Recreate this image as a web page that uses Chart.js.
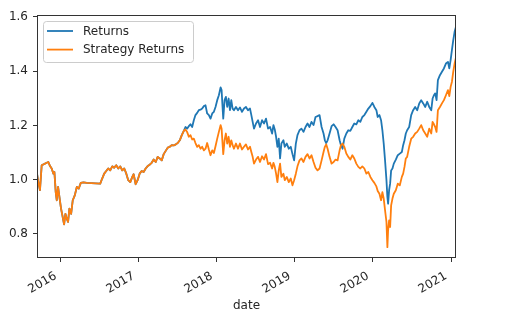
<!DOCTYPE html>
<html>
<head>
<meta charset="utf-8">
<title>Returns vs Strategy Returns</title>
<script src="https://cdn.jsdelivr.net/npm/chart.js@4"></script>
<style>
  html, body { margin: 0; padding: 0; background: #ffffff; }
  #wrap { width: 524px; height: 332px; }
</style>
</head>
<body>
<div id="wrap"><canvas id="returnsChart" width="524" height="332"></canvas></div>
<script>
// trading dates as decimal years
const dates = [
  2015.696, 2015.713, 2015.734, 2015.756, 2015.786, 2015.820, 2015.841, 2015.863, 2015.884, 2015.906,
  2015.919, 2015.936, 2015.949, 2015.966, 2015.983, 2016.004, 2016.021, 2016.043, 2016.060, 2016.077,
  2016.094, 2016.111, 2016.133, 2016.154, 2016.180, 2016.206, 2016.231, 2016.257, 2016.291, 2016.334,
  2016.506, 2016.531, 2016.557, 2016.583, 2016.608, 2016.634, 2016.660, 2016.685, 2016.711, 2016.737,
  2016.763, 2016.788, 2016.814, 2016.840, 2016.865, 2016.891, 2016.917, 2016.934, 2016.960, 2016.985,
  2017.011, 2017.037, 2017.062, 2017.088, 2017.114, 2017.140, 2017.165, 2017.191, 2017.217, 2017.242,
  2017.268, 2017.294, 2017.319, 2017.345, 2017.371, 2017.397, 2017.422, 2017.448, 2017.474, 2017.499,
  2017.525, 2017.551, 2017.577, 2017.598, 2017.619, 2017.641, 2017.662, 2017.684, 2017.705, 2017.726,
  2017.748, 2017.769, 2017.791, 2017.812, 2017.834, 2017.855, 2017.876, 2017.898, 2017.919, 2017.941,
  2017.962, 2017.983, 2018.005, 2018.026, 2018.048, 2018.061, 2018.073, 2018.082, 2018.099, 2018.116,
  2018.133, 2018.151, 2018.168, 2018.185, 2018.202, 2018.219, 2018.245, 2018.271, 2018.296, 2018.322,
  2018.348, 2018.373, 2018.399, 2018.425, 2018.442, 2018.459, 2018.476, 2018.502, 2018.528, 2018.553,
  2018.579, 2018.605, 2018.630, 2018.656, 2018.682, 2018.708, 2018.725, 2018.742, 2018.759, 2018.776,
  2018.793, 2018.810, 2018.827, 2018.853, 2018.870, 2018.896, 2018.922, 2018.947, 2018.969, 2018.990,
  2019.012, 2019.033, 2019.059, 2019.084, 2019.110, 2019.136, 2019.162, 2019.187, 2019.213, 2019.239,
  2019.264, 2019.290, 2019.316, 2019.342, 2019.367, 2019.384, 2019.401, 2019.419, 2019.444, 2019.470,
  2019.496, 2019.521, 2019.547, 2019.573, 2019.590, 2019.611, 2019.633, 2019.659, 2019.684, 2019.710,
  2019.736, 2019.761, 2019.787, 2019.813, 2019.838, 2019.864, 2019.890, 2019.916, 2019.941, 2019.967,
  2019.993, 2020.018, 2020.044, 2020.061, 2020.083, 2020.104, 2020.121, 2020.138, 2020.155, 2020.173,
  2020.185, 2020.194, 2020.207, 2020.220, 2020.233, 2020.250, 2020.267, 2020.293, 2020.318, 2020.344,
  2020.370, 2020.387, 2020.404, 2020.421, 2020.438, 2020.464, 2020.490, 2020.515, 2020.541, 2020.567,
  2020.593, 2020.618, 2020.644, 2020.670, 2020.695, 2020.721, 2020.747, 2020.764, 2020.781, 2020.798,
  2020.815, 2020.832, 2020.858, 2020.884, 2020.909, 2020.935, 2020.961, 2020.978, 2020.995, 2021.012,
  2021.029, 2021.046, 2021.064
];

// cumulative buy & hold returns
const returns = [
  1.022, 0.991, 0.961, 1.053, 1.057, 1.062, 1.065, 1.050, 1.041, 1.022,
  1.028, 0.954, 0.924, 0.973, 0.936, 0.893, 0.868, 0.835, 0.874, 0.856,
  0.844, 0.893, 0.874, 0.924, 0.942, 0.973, 0.967, 0.988, 0.990, 0.988,
  0.985, 1.004, 1.022, 1.032, 1.041, 1.034, 1.049, 1.044, 1.053, 1.041,
  1.049, 1.034, 1.041, 1.022, 0.998, 0.991, 1.010, 1.020, 0.983, 0.998,
  1.022, 1.032, 1.028, 1.041, 1.050, 1.055, 1.062, 1.074, 1.065, 1.084,
  1.078, 1.071, 1.094, 1.106, 1.118, 1.121, 1.127, 1.126, 1.130, 1.135,
  1.145, 1.164, 1.180, 1.194, 1.188, 1.197, 1.204, 1.194, 1.219, 1.238,
  1.246, 1.256, 1.258, 1.262, 1.271, 1.274, 1.244, 1.238, 1.225, 1.244,
  1.250, 1.268, 1.293, 1.311, 1.340, 1.330, 1.268, 1.225, 1.293, 1.305,
  1.268, 1.299, 1.256, 1.293, 1.262, 1.256, 1.268, 1.256, 1.266, 1.250,
  1.262, 1.268, 1.256, 1.262, 1.238, 1.213, 1.188, 1.207, 1.219, 1.194,
  1.219, 1.207, 1.225, 1.188, 1.194, 1.170, 1.201, 1.185, 1.158, 1.121,
  1.151, 1.078, 1.133, 1.145, 1.121, 1.133, 1.114, 1.121, 1.094, 1.071,
  1.133, 1.164, 1.182, 1.188, 1.176, 1.194, 1.207, 1.194, 1.213, 1.201,
  1.231, 1.234, 1.238, 1.194, 1.170, 1.145, 1.135, 1.145, 1.170, 1.197,
  1.204, 1.194, 1.182, 1.145, 1.127, 1.114, 1.151, 1.170, 1.182, 1.180,
  1.194, 1.207, 1.204, 1.219, 1.213, 1.231, 1.238, 1.250, 1.262, 1.271,
  1.283, 1.268, 1.256, 1.231, 1.238, 1.219, 1.182, 1.133, 1.071, 0.998,
  0.936, 0.911, 0.961, 0.985, 1.034, 1.041, 1.059, 1.074, 1.090, 1.096,
  1.102, 1.127, 1.145, 1.170, 1.182, 1.194, 1.238, 1.256, 1.268, 1.256,
  1.281, 1.293, 1.281, 1.268, 1.287, 1.268, 1.256, 1.299, 1.311, 1.318,
  1.293, 1.367, 1.385, 1.398, 1.410, 1.428, 1.434, 1.410, 1.441, 1.478,
  1.514, 1.545, 1.564
];

// cumulative returns of the signal strategy
const strategyReturns = [
  1.022, 0.991, 0.961, 1.053, 1.057, 1.062, 1.065, 1.050, 1.041, 1.022,
  1.028, 0.954, 0.924, 0.973, 0.936, 0.893, 0.868, 0.835, 0.874, 0.856,
  0.844, 0.893, 0.874, 0.924, 0.942, 0.973, 0.967, 0.988, 0.990, 0.988,
  0.985, 1.004, 1.022, 1.032, 1.041, 1.034, 1.049, 1.044, 1.053, 1.041,
  1.049, 1.034, 1.041, 1.022, 0.998, 0.991, 1.010, 1.020, 0.983, 0.998,
  1.022, 1.032, 1.028, 1.041, 1.050, 1.055, 1.062, 1.074, 1.065, 1.084,
  1.078, 1.071, 1.094, 1.106, 1.118, 1.121, 1.127, 1.126, 1.130, 1.135,
  1.145, 1.164, 1.180, 1.185, 1.176, 1.158, 1.164, 1.148, 1.151, 1.135,
  1.121, 1.127, 1.114, 1.121, 1.108, 1.114, 1.135, 1.111, 1.090, 1.108,
  1.098, 1.123, 1.151, 1.176, 1.201, 1.188, 1.133, 1.094, 1.145, 1.170,
  1.133, 1.158, 1.121, 1.145, 1.127, 1.114, 1.133, 1.114, 1.133, 1.111,
  1.121, 1.130, 1.111, 1.121, 1.102, 1.084, 1.059, 1.074, 1.084, 1.065,
  1.086, 1.074, 1.094, 1.057, 1.062, 1.041, 1.062, 1.047, 1.022, 0.991,
  1.034, 1.059, 1.010, 1.022, 0.998, 1.010, 0.991, 1.004, 0.979, 0.998,
  1.022, 1.049, 1.071, 1.078, 1.065, 1.084, 1.094, 1.078, 1.090, 1.065,
  1.044, 1.034, 1.041, 1.071, 1.102, 1.121, 1.130, 1.114, 1.084, 1.059,
  1.065, 1.074, 1.071, 1.108, 1.127, 1.133, 1.121, 1.096, 1.084, 1.074,
  1.090, 1.078, 1.059, 1.047, 1.041, 1.049, 1.041, 1.022, 1.028, 1.010,
  0.998, 0.988, 0.975, 0.958, 0.948, 0.924, 0.954, 0.930, 0.887, 0.844,
  0.751, 0.813, 0.850, 0.825, 0.905, 0.930, 0.948, 0.961, 0.985, 0.979,
  1.010, 1.022, 1.047, 1.078, 1.084, 1.121, 1.151, 1.158, 1.170, 1.176,
  1.188, 1.201, 1.182, 1.170, 1.158, 1.188, 1.170, 1.213, 1.204, 1.194,
  1.176, 1.256, 1.268, 1.281, 1.293, 1.311, 1.330, 1.308, 1.342, 1.361,
  1.398, 1.428, 1.450
];

const yearTicks = [2016, 2017, 2018, 2019, 2020, 2021];
const valueTicks = [0.8, 1.0, 1.2, 1.4, 1.6];

const FONT = { family: 'DejaVu Sans', size: 12 };
const TEXT = '#262626';
const AXIS = '#333333';

const toPoints = (ys) => dates.map((d, i) => ({ x: d, y: ys[i] }));

// box round the axes plus a matplotlib style legend in the upper left
const frameAndLegend = {
  id: 'frameAndLegend',
  afterDraw(chart) {
    const { ctx, chartArea: a } = chart;
    ctx.save();
    ctx.strokeStyle = AXIS;
    ctx.lineWidth = 1;
    const l = Math.round(a.left) + 0.5, t = Math.round(a.top) + 0.5;
    const r = Math.round(a.right) - 0.5, b = Math.round(a.bottom) - 0.5;
    ctx.strokeRect(l, t, r - l, b - t);

    const bx = a.left + 6, by = a.top + 6, bw = 150, bh = 41;
    ctx.beginPath();
    ctx.roundRect(bx + 0.5, by + 0.5, bw, bh, 3);
    ctx.fillStyle = 'rgba(255,255,255,0.8)';
    ctx.fill();
    ctx.strokeStyle = '#cccccc';
    ctx.stroke();

    ctx.font = `${FONT.size}px ${FONT.family}`;
    ctx.textBaseline = 'middle';
    ctx.fillStyle = TEXT;
    chart.data.datasets.forEach((ds, i) => {
      const y = by + 10 + i * 18.6;
      ctx.beginPath();
      ctx.strokeStyle = ds.borderColor;
      ctx.lineWidth = 1.8;
      ctx.moveTo(bx + 4, y);
      ctx.lineTo(bx + 30, y);
      ctx.stroke();
      ctx.fillText(ds.label, bx + 40, y + 0.5);
    });
    ctx.restore();
  }
};

new Chart(document.getElementById('returnsChart'), {
  type: 'line',
  data: {
    datasets: [
      {
        label: 'Returns',
        data: toPoints(returns),
        borderColor: '#1f77b4',
        borderWidth: 1.8,
        pointRadius: 0,
        tension: 0,
        borderJoinStyle: 'round',
        order: 1
      },
      {
        label: 'Strategy Returns',
        data: toPoints(strategyReturns),
        borderColor: '#ff7f0e',
        borderWidth: 1.8,
        pointRadius: 0,
        tension: 0,
        borderJoinStyle: 'round',
        order: 0
      }
    ]
  },
  options: {
    responsive: false,
    animation: false,
    layout: { padding: { left: 0, top: 15, right: 68, bottom: 19 } },
    plugins: {
      legend: { display: false },
      tooltip: { enabled: false }
    },
    scales: {
      x: {
        type: 'linear',
        min: 2015.696,
        max: 2021.064,
        afterBuildTicks: (s) => { s.ticks = yearTicks.map(v => ({ value: v })); },
        afterFit: (s) => { s.height = 55; },
        border: { display: false },
        grid: { drawOnChartArea: false, tickLength: 4, tickColor: AXIS },
        ticks: {
          font: FONT, color: TEXT, autoSkip: false,
          minRotation: 30, maxRotation: 30, padding: 7, labelOffset: -5,
          callback: (v) => String(v)
        },
        title: { display: true, text: 'date', font: FONT, color: TEXT, padding: { top: 0, bottom: 0 } }
      },
      y: {
        type: 'linear',
        min: 0.711,
        max: 1.607,
        afterBuildTicks: (s) => { s.ticks = valueTicks.map(v => ({ value: v })); },
        afterFit: (s) => { s.width = 37; },
        border: { display: false },
        grid: { drawOnChartArea: false, tickLength: 4, tickColor: AXIS },
        ticks: { font: FONT, color: TEXT, padding: 5, callback: (v) => v.toFixed(1) }
      }
    }
  },
  plugins: [frameAndLegend]
});
</script>
</body>
</html>
